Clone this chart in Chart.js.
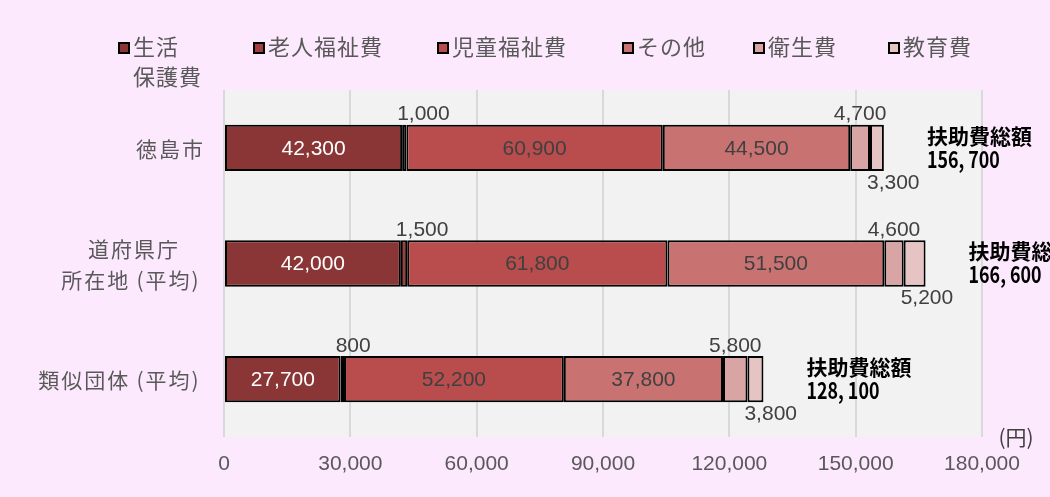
<!DOCTYPE html>
<html lang="ja">
<head>
<meta charset="utf-8">
<script src="https://cdn.jsdelivr.net/npm/chart.js@4/dist/chart.umd.min.js"></script>
<style>
  html, body { margin: 0; padding: 0; background: #fde9fd; }
  #wrap { position: relative; width: 1050px; height: 497px; overflow: hidden; }
  #chart { position: absolute; left: 0; top: 0; }
  .lg { position: absolute; font: 22px "Noto Sans CJK JP", sans-serif; color: #595959; line-height: 30px; letter-spacing: 1px; white-space: nowrap; }
  .lg i { display: inline-block; width: 8px; height: 8px; border: 2px solid #000; margin-right: 3px; vertical-align: 1px; }
  .lg span { display: inline-block; vertical-align: top; }
</style>
</head>
<body>
<div id="wrap">
  <canvas id="chart" width="1050" height="497"></canvas>
</div>
<script>
/* ==================== DATA ==================== */
const categories = [["徳島市"], ["道府県庁", "所在地(平均)"], ["類似団体(平均)"]];
const seriesNames = [["生活", "保護費"], ["老人福祉費"], ["児童福祉費"], ["その他"], ["衛生費"], ["教育費"]];
const seikatsuHogo = [42300, 42000, 27700];
const roujinFukushi = [1000, 1500, 800];
const jidouFukushi = [60900, 61800, 52200];
const sonota = [44500, 51500, 37800];
const eisei = [4700, 4600, 5800];
const kyouiku = [3300, 5200, 3800];
const totals = [156700, 166600, 128100];
const totalTitle = "扶助費総額";
const xTicks = [0, 30000, 60000, 90000, 120000, 150000, 180000];
const unitLabel = "(円)";

/* ==================== STYLE ==================== */
const colors = ["#8b3636", "#a13e3e", "#b94c4c", "#c87272", "#d9a4a4", "#e6c4c4"];
// where the value label of each series goes
const labelPlace = ["in", "above-left", "in", "in", "above", "below-left"];
const legendX = [118, 253, 437, 622, 753, 888];
const fmt = v => v.toLocaleString("en-US");

const seriesValues = [seikatsuHogo, roujinFukushi, jidouFukushi, sonota, eisei, kyouiku];

// legend (html, the first item wraps to two lines)
const wrap = document.getElementById("wrap");
seriesNames.forEach((name, i) => {
  const d = document.createElement("div");
  d.className = "lg";
  d.style.left = legendX[i] + "px";
  d.style.top = "30px";
  d.innerHTML = `<i style="background:${colors[i]}"></i><span>${name.join("<br>")}</span>`;
  wrap.appendChild(d);
});

/* ==================== PLUGINS ==================== */
const plotBg = {
  id: "plotBg",
  beforeDraw(chart) {
    const { ctx, chartArea: a } = chart;
    ctx.save();
    ctx.fillStyle = "#f2f2f2";
    ctx.fillRect(a.left, a.top, a.right - a.left, a.bottom - a.top);
    ctx.restore();
  }
};

const labels = {
  id: "labels",
  afterDatasetsDraw(chart) {
    const { ctx, chartArea: a } = chart;
    const yScale = chart.scales.y;
    ctx.save();
    ctx.textBaseline = "middle";

    // category labels, lines centred on each other, block right aligned
    ctx.font = '21px "Noto Sans CJK JP", sans-serif';
    ctx.letterSpacing = "2px";
    ctx.fillStyle = "#595959";
    categories.forEach((lines, j) => {
      const cy = yScale.getPixelForValue(j);
      const w = Math.max(...lines.map(l => ctx.measureText(l.replace(/[()]/g, "  ")).width));
      const cx = a.left - 19 - w / 2;
      ctx.textAlign = "center";
      lines.forEach((l, k) => {
        // widen the half-width brackets a little
        const t = l.replace("(", "\u2009(").replace(")", ")\u2009");
        ctx.fillText(t, cx, cy + (k - (lines.length - 1) / 2) * 31 + 1);
      });
    });
    ctx.letterSpacing = "0px";

    // value labels
    ctx.font = '21px "Liberation Sans", Arial, sans-serif';
    chart.data.datasets.forEach((ds, i) => {
      const meta = chart.getDatasetMeta(i);
      meta.data.forEach((bar, j) => {
        const v = ds.data[j];
        const left = Math.min(bar.base, bar.x), right = Math.max(bar.base, bar.x);
        const top = bar.y - bar.height / 2, bottom = bar.y + bar.height / 2;
        const place = labelPlace[i];
        ctx.fillStyle = i === 0 ? "#ffffff" : "#404040";
        if (place === "in") {
          ctx.textAlign = "center";
          ctx.fillText(fmt(v), (left + right) / 2, bar.y + 1);
        } else if (place === "above") {
          ctx.fillStyle = "#404040";
          ctx.textAlign = "center";
          ctx.fillText(fmt(v), (left + right) / 2, top - 10);
        } else if (place === "above-left") {
          ctx.fillStyle = "#404040";
          ctx.textAlign = "left";
          ctx.fillText(fmt(v), left - 5, top - 10);
        } else {
          ctx.fillStyle = "#404040";
          ctx.textAlign = "left";
          ctx.fillText(fmt(v), left - 3, bottom + 12);
        }
      });
    });

    // totals
    const last = chart.getDatasetMeta(chart.data.datasets.length - 1);
    ctx.fillStyle = "#000000";
    ctx.textAlign = "left";
    last.data.forEach((bar, j) => {
      const x = Math.max(bar.x, bar.base) + 43;
      ctx.font = 'bold 21px "Noto Sans CJK JP", sans-serif';
      ctx.fillText(totalTitle, x, bar.y - 12);
      ctx.font = 'bold 23px "Noto Sans CJK JP", sans-serif';
      ctx.fillText(fmt(totals[j]).replace(",", ", "), x, bar.y + 11, 73);
    });

    // unit
    ctx.font = '21px "Noto Sans CJK JP", sans-serif';
    ctx.fillStyle = "#404040";
    ctx.textAlign = "center";
    ctx.fillText(unitLabel, 1016, a.bottom);
    ctx.restore();
  }
};

/* ==================== CHART ==================== */
new Chart(document.getElementById("chart"), {
  type: "bar",
  data: {
    labels: categories.map(c => c.join("")),
    datasets: seriesValues.map((vals, i) => ({
      label: seriesNames[i].join(""),
      data: vals,
      backgroundColor: colors[i],
      borderColor: "#000000",
      borderWidth: 2,
      borderSkipped: false,
      barPercentage: 0.4,
      categoryPercentage: 1
    }))
  },
  options: {
    indexAxis: "y",
    responsive: false,
    animation: false,
    events: [],
    layout: { padding: { left: 224, right: 68, top: 90, bottom: 0 } },
    plugins: { legend: { display: false }, tooltip: { enabled: false } },
    scales: {
      x: {
        stacked: true,
        min: xTicks[0],
        max: xTicks[xTicks.length - 1],
        afterBuildTicks: s => { s.ticks = xTicks.map(v => ({ value: v })); },
        afterFit: s => { s.height = 60; },
        border: { display: false },
        grid: { color: "#d9d9d9", lineWidth: 2, drawTicks: false },
        ticks: {
          padding: 15,
          color: "#595959",
          maxRotation: 0,
          font: { family: '"Liberation Sans", Arial, sans-serif', size: 21 },
          callback: v => fmt(v)
        }
      },
      y: { stacked: true, display: false }
    }
  },
  plugins: [plotBg, labels]
});
</script>
</body>
</html>
